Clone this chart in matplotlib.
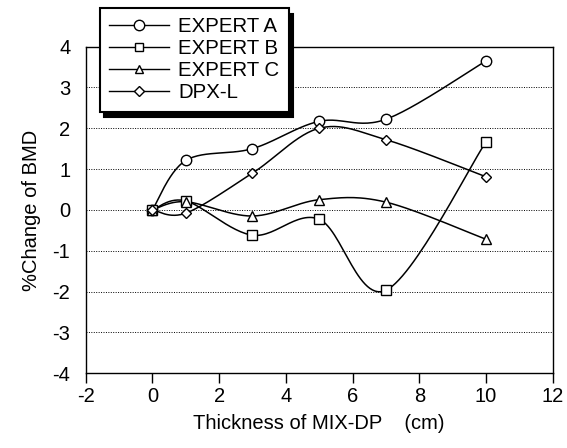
import numpy as np
import matplotlib.pyplot as plt

plt.rcParams['font.family'] = ['Liberation Sans', 'DejaVu Sans']
plt.rcParams['axes.unicode_minus'] = False

thickness = [0, 1, 3, 5, 7, 10]
expert_a = [0, 1.21, 1.5, 2.17, 2.22, 3.65]
expert_b = [0, 0.22, -0.62, -0.23, -1.97, 1.67]
expert_c = [0, 0.2, -0.15, 0.25, 0.19, -0.72]
dpx_l = [0, -0.08, 0.9, 2.0, 1.72, 0.81]

series = [
    ('EXPERT A', expert_a, 'o'),
    ('EXPERT B', expert_b, 's'),
    ('EXPERT C', expert_c, '^'),
    ('DPX-L', dpx_l, 'D'),
]


def smooth(ax, xs, ys, n=30):
    # excel-like smoothed line, done in screen coords
    pts = ax.transData.transform(np.column_stack([xs, ys]))
    p = np.vstack([pts[0], pts, pts[-1]])
    out = []
    for i in range(1, len(p) - 2):
        p0, p1, p2, p3 = p[i - 1], p[i], p[i + 1], p[i + 2]
        c1 = p1 + (p2 - p0) / 6
        c2 = p2 - (p3 - p1) / 6
        t = np.linspace(0, 1, n)[:, None]
        seg = ((1 - t) ** 3 * p1 + 3 * (1 - t) ** 2 * t * c1
               + 3 * (1 - t) * t ** 2 * c2 + t ** 3 * p2)
        out.append(seg if i == 1 else seg[1:])
    out = np.vstack(out)
    return ax.transData.inverted().transform(out)


fig = plt.figure(figsize=(5.67, 4.48), dpi=100)
ax = fig.add_axes([0.151, 0.167, 0.824, 0.729])
ax.set_xlim(-2, 12)
ax.set_ylim(-4, 4)
ax.set_xticks(range(-2, 13, 2))
ax.set_yticks(range(-4, 5))

for yv in range(-3, 4):
    ax.axhline(yv, color='black', lw=0.7, ls=(0, (1, 1.5)), zorder=1)

msize = {'o': 7.5, 's': 7, '^': 7, 'D': 5.5}
for name, vals, m in series:
    curve = smooth(ax, thickness, vals)
    ax.plot(curve[:, 0], curve[:, 1], color='black', lw=1.1, zorder=2)
    ax.plot(thickness, vals, ls='none', marker=m, ms=msize[m],
            mfc='white', mec='black', mew=1.0, zorder=3)

leg_ms = {'o': 7.5, 's': 6, '^': 6, 'D': 5}
handles = [plt.Line2D([], [], color='black', lw=1.0, marker=m, ms=leg_ms[m],
                      mfc='white', mec='black') for _, _, m in series]
leg = fig.legend(handles, [s[0] for s in series], loc='upper left',
                 bbox_to_anchor=(0.176, 0.982), frameon=True, fancybox=False,
                 shadow={'color': 'black', 'alpha': 1, 'ox': 3, 'oy': -4},
                 fontsize=14.7, handlelength=2.95, labelspacing=0.15,
                 handletextpad=0.45, borderpad=0.45, borderaxespad=0)
leg.get_frame().set_edgecolor('black')
leg.get_frame().set_linewidth(1.5)
leg.set_zorder(10)

ax.tick_params(axis='x', direction='out', length=7, width=1, labelsize=14.5, pad=3)
ax.tick_params(axis='y', length=0, labelsize=14.5, pad=11)
for s in ax.spines.values():
    s.set_linewidth(1.0)

ax.set_ylabel('%Change of BMD', fontsize=14.5, labelpad=8)
ax.set_xlabel('Thickness of MIX-DP    (cm)', fontsize=14.5, labelpad=6)

fig.savefig('out.png', dpi=100)
